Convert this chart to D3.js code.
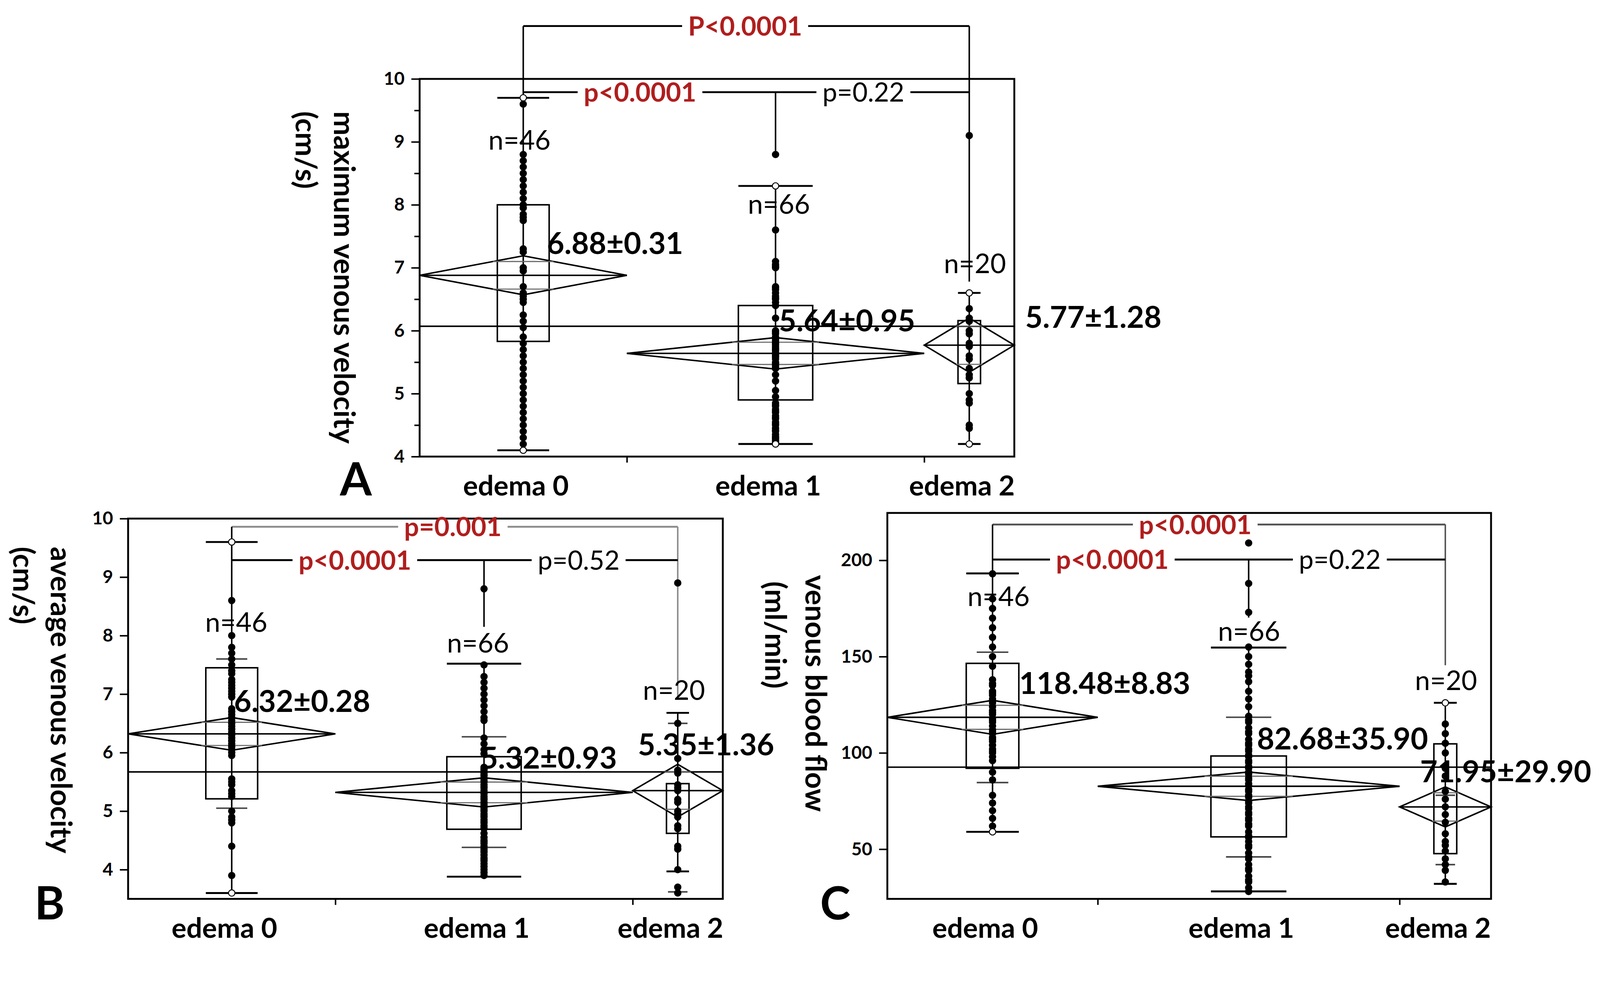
<!DOCTYPE html>
<html>
<head>
<meta charset="utf-8">
<script src="https://cdn.jsdelivr.net/npm/d3@7"></script>
<style>
  html, body { margin: 0; padding: 0; background: #fff; overflow: hidden; }
  #fig { display: block; width: 100vw; height: calc(100vw * 2549 / 4259); }
</style>
</head>
<body>
<svg id="fig" viewBox="0 0 4259 2549" preserveAspectRatio="xMinYMin meet"></svg>
<script>
// groups and sample sizes (widths of the columns are proportional to n)
var groups = ["edema 0", "edema 1", "edema 2"];
var groupN = [46, 66, 20];

// ---- panel A : maximum venous velocity ----
var aMeans = [6.88, 5.64, 5.77];
var aCI = [0.31, 0.25, 0.43];
var aQ1 = [5.83, 4.90, 5.16];
var aQ3 = [8.00, 6.40, 6.16];
var aMin = [4.10, 4.20, 4.20];
var aMax = [9.70, 8.30, 6.60];
var aGrandMean = 6.07;
var aStats = ["6.88±0.31", "5.64±0.95", "5.77±1.28"];
var aP = ["P<0.0001", "p<0.0001", "p=0.22"];
var aYTicks = [4, 5, 6, 7, 8, 9, 10];
var aYMinor = [4.5, 5.5, 6.5, 7.5, 8.5, 9.5];
var aPts0 = [9.7, 9.6, 8.8, 8.7, 8.6, 8.5, 8.4, 8.3, 8.2, 8.1, 8.0, 7.95, 7.85, 7.8, 7.75, 7.3, 7.25, 7.0, 6.95, 6.7, 6.6, 6.55, 6.5, 6.45, 6.25, 6.15, 6.05, 5.9, 5.8, 5.7, 5.6, 5.5, 5.4, 5.3, 5.2, 5.1, 5.0, 4.9, 4.8, 4.7, 4.6, 4.5, 4.4, 4.3, 4.2, 4.1];
var aPts1 = [8.8, 8.3, 7.6, 7.1, 7.05, 7.0, 7.02, 6.7, 6.68, 6.65, 6.6, 6.55, 6.52, 6.5, 6.45, 6.4, 6.2, 6.0, 5.98, 5.95, 5.9, 5.88, 5.85, 5.82, 5.8, 5.78, 5.75, 5.72, 5.7, 5.68, 5.65, 5.62, 5.6, 5.58, 5.55, 5.5, 5.48, 5.45, 5.42, 5.4, 5.3, 5.2, 5.05, 4.95, 4.85, 4.82, 4.8, 4.75, 4.72, 4.7, 4.65, 4.62, 4.6, 4.55, 4.52, 4.5, 4.45, 4.42, 4.4, 4.35, 4.32, 4.3, 4.28, 4.25, 4.22, 4.2];
var aPts2 = [9.1, 6.6, 6.35, 6.2, 6.15, 6.0, 5.95, 5.8, 5.75, 5.6, 5.55, 5.4, 5.3, 5.25, 5.0, 4.9, 4.85, 4.5, 4.45, 4.2];

// ---- panel B : average venous velocity ----
var bMeans = [6.32, 5.32, 5.35];
var bCI = [0.28, 0.25, 0.45];
var bQ1 = [5.21, 4.69, 4.62];
var bQ3 = [7.45, 5.93, 5.47];
var bMin = [3.60, 3.88, 3.97];
var bMax = [9.60, 7.52, 6.68];
var bP10 = [5.05, 4.38, 3.62];
var bP90 = [7.60, 6.27, 6.50];
var bGrandMean = 5.67;
var bStats = ["6.32±0.28", "5.32±0.93", "5.35±1.36"];
var bP = ["p=0.001", "p<0.0001", "p=0.52"];
var bYTicks = [4, 5, 6, 7, 8, 9, 10];
var bPts0 = [9.6, 8.6, 8.0, 7.8, 7.7, 7.6, 7.5, 7.4, 7.35, 7.25, 7.2, 7.15, 7.1, 7.05, 7.0, 6.95, 6.75, 6.7, 6.65, 6.6, 6.55, 6.5, 6.45, 6.4, 6.35, 6.3, 6.25, 6.2, 6.15, 6.1, 6.05, 6.0, 5.95, 5.55, 5.5, 5.45, 5.35, 5.3, 5.25, 5.0, 4.9, 4.85, 4.8, 4.4, 3.9, 3.6];
var bPts1 = [8.8, 7.5, 7.3, 7.2, 7.1, 7.0, 6.9, 6.8, 6.7, 6.6, 6.55, 6.25, 6.15, 6.05, 5.98, 5.75, 5.72, 5.7, 5.65, 5.62, 5.6, 5.55, 5.52, 5.5, 5.45, 5.42, 5.4, 5.35, 5.32, 5.3, 5.25, 5.22, 5.2, 5.15, 5.12, 5.1, 5.05, 5.02, 5.0, 4.95, 4.92, 4.9, 4.85, 4.82, 4.8, 4.75, 4.72, 4.7, 4.62, 4.55, 4.5, 4.48, 4.45, 4.4, 4.35, 4.32, 4.3, 4.25, 4.2, 4.18, 4.15, 4.1, 4.05, 4.0, 3.95, 3.9];
var bPts2 = [8.9, 6.5, 5.9, 5.7, 5.65, 5.45, 5.4, 5.35, 5.2, 5.15, 5.0, 4.95, 4.9, 4.75, 4.7, 4.4, 4.35, 4.0, 3.7, 3.6];

// ---- panel C : venous blood flow ----
var cMeans = [118.48, 82.68, 71.95];
var cCI = [8.83, 7.4, 10.4];
var cQ1 = [92.0, 56.4, 47.7];
var cQ3 = [146.5, 98.4, 104.7];
var cMin = [59, 28.1, 32];
var cMax = [193.2, 154.7, 126];
var cP10 = [84.6, 46, 42];
var cP90 = [152.3, 118.5, 78];
var cGrandMean = 92.6;
var cStats = ["118.48±8.83", "82.68±35.90", "71.95±29.90"];
var cP = ["p<0.0001", "p<0.0001", "p=0.22"];
var cYTicks = [50, 100, 150, 200];
var cPts0 = [193, 180, 175, 170, 165, 160, 155, 150, 145, 138, 136, 135, 132, 131, 130, 128, 127, 126, 124, 122, 121, 120, 118, 117, 116, 114, 112, 111, 110, 108, 107, 106, 104, 102, 101, 100, 98, 96, 90, 86, 78, 74, 70, 66, 62, 59];
var cPts1 = [209, 188, 173, 155, 150, 146, 142, 140, 137, 132, 128, 124, 119, 117, 116, 113, 111, 110, 107, 105, 104, 102, 101, 99, 98, 96, 95, 93, 92, 90, 89, 87, 86, 84, 83, 81, 80, 78, 77, 75, 74, 72, 71, 69, 68, 66, 65, 63, 62, 59, 57, 56, 54, 52, 51, 48, 46, 45, 42, 40, 39, 36, 34, 33, 30, 28];
var cPts2 = [126, 115, 110, 105, 100, 92, 88, 80, 76, 72, 68, 64, 58, 54, 52, 49, 45, 42, 39, 33];

var FONT = "Lato, 'Open Sans', 'DejaVu Sans', sans-serif";
var RED = "#b01e1e";
var svg = d3.select("#fig");

// layout of the three panels (pixels) and where the annotations sit
var panels = [
  { letter: "A", letterX: 905, letterY: 1318,
    left: 1117, right: 2700, top: 210, bottom: 1215, yDomain: [4, 10],
    yTicks: aYTicks, yMinor: aYMinor,
    means: aMeans, ci: aCI, q1: aQ1, q3: aQ3, lo: aMin, hi: aMax, p10: null, p90: null,
    grand: aGrandMean, points: [aPts0, aPts1, aPts2], stats: aStats, pvals: aP,
    brTop: 10.84, brIn: 9.79, dropE2: 6.78, dropE1: 8.8, topColor: "#000",
    pDx: [-3, -25, -24],
    title: ["maximum venous velocity", "(cm/s)"], titleX: [917, 815], titleY: [296, 296],
    nY: [9.03, 8.01, 7.07], nDx: [-10, 9, 15],
    statY: [7.39, 6.16, 6.22], statDx: [63, 9, 149] },
  { letter: "B", letterX: 92, letterY: 2447,
    left: 341, right: 1924, top: 1380, bottom: 2392, yDomain: [3.5, 10],
    yTicks: bYTicks, yMinor: [],
    means: bMeans, ci: bCI, q1: bQ1, q3: bQ3, lo: bMin, hi: bMax, p10: bP10, p90: bP90,
    grand: bGrandMean, points: [bPts0, bPts1, bPts2], stats: bStats, pvals: bP,
    brTop: 9.86, brIn: 9.29, dropE2: 6.93, dropE1: 8.15, topColor: "#8c8c8c",
    pDx: [-5, -8, -6],
    title: ["average venous velocity", "(cm/s)"], titleX: [163, 63], titleY: [1455, 1455],
    nY: [8.23, 7.88, 7.07], nDx: [12, -16, -10],
    statY: [6.88, 5.91, 6.14], statDx: [6, -9, -106] },
  { letter: "C", letterX: 2183, letterY: 2447,
    left: 2362, right: 3969, top: 1365, bottom: 2392, yDomain: [24.2, 224.6],
    yTicks: cYTicks, yMinor: [],
    means: cMeans, ci: cCI, q1: cQ1, q3: cQ3, lo: cMin, hi: cMax, p10: cP10, p90: cP90,
    grand: cGrandMean, points: [cPts0, cPts1, cPts2], stats: cStats, pvals: cP,
    brTop: 218.6, brIn: 200.4, dropE2: 145.5, dropE1: 170.3, topColor: "#555",
    pDx: [-63, -22, -19],
    title: ["venous blood flow", "(ml/min)"], titleX: [2172, 2065], titleY: [1530, 1547],
    nY: [181.3, 163.3, 137.7], nDx: [16, 1, 2],
    statY: [136.2, 107.5, 90.3], statDx: [71, 22, -67] }
];

function line(g, x1, y1, x2, y2, color, w) {
  return g.append("line")
    .attr("x1", x1).attr("y1", y1).attr("x2", x2).attr("y2", y2)
    .attr("stroke", color || "#000").attr("stroke-width", w || 4);
}

function drawPanel(p) {
  var g = svg.append("g");
  var total = d3.sum(groupN);
  var x = d3.scaleLinear().domain([0, total]).range([p.left, p.right]);
  var y = d3.scaleLinear().domain(p.yDomain).range([p.bottom, p.top]);

  var cum = [0];
  groupN.forEach(function(n, i) { cum.push(cum[i] + n); });
  var mid = groupN.map(function(n, i) { return cum[i] + n / 2; });
  var cx = mid.map(x);
  var boxHalf = groupN.map(function(n) { return x(n * 0.125) - x(0); });

  // grand mean
  line(g, p.left, y(p.grand), p.right, y(p.grand), "#000", 4);

  groupN.forEach(function(n, i) {
    var xl = x(cum[i]), xr = x(cum[i + 1]), c = cx[i], bh = boxHalf[i];

    // quantile box
    g.append("rect")
      .attr("x", c - bh).attr("y", y(p.q3[i]))
      .attr("width", 2 * bh).attr("height", y(p.q1[i]) - y(p.q3[i]))
      .attr("fill", "none").attr("stroke", "#000").attr("stroke-width", 4);

    // whisker + caps
    line(g, c, y(p.lo[i]), c, y(p.hi[i]), "#000", 4);
    line(g, c - bh, y(p.hi[i]), c + bh, y(p.hi[i]), "#000", 5);
    line(g, c - bh, y(p.lo[i]), c + bh, y(p.lo[i]), "#000", 5);

    // 10 / 90 % marks
    if (p.p10) {
      var mh = Math.max(bh * 0.6, 26);
      line(g, c - mh, y(p.p10[i]), c + mh, y(p.p10[i]), "#444", 4);
      line(g, c - mh, y(p.p90[i]), c + mh, y(p.p90[i]), "#444", 4);
    }

    // means diamond
    var m = p.means[i], ci = p.ci[i];
    var pts = [[xl, y(m)], [c, y(m + ci)], [xr, y(m)], [c, y(m - ci)]];
    g.append("path")
      .attr("d", "M" + pts.join("L") + "Z")
      .attr("fill", "none").attr("stroke", "#000").attr("stroke-width", 4);
    line(g, xl, y(m), xr, y(m), "#000", 4);

    // overlap marks
    var k = 1 / Math.SQRT2, hw = (xr - xl) / 2 * (1 - k);
    [m + ci * k, m - ci * k].forEach(function(v) {
      line(g, c - hw, y(v), c + hw, y(v), "#6a6a6a", 3);
    });
  });

  // comparison brackets
  var lc = p.topColor;
  line(g, cx[0], y(p.brTop), cx[2], y(p.brTop), lc, 5);
  line(g, cx[2], y(p.brTop), cx[2], y(p.dropE2), lc, 4);
  line(g, cx[0], y(p.brTop), cx[0], y(p.hi[0]), "#000", 4);
  line(g, cx[0], y(p.brIn), cx[2], y(p.brIn), "#000", 5);
  line(g, cx[1], y(p.brIn), cx[1], y(p.dropE1), "#000", 4);

  // data points
  p.points.forEach(function(vals, i) {
    g.selectAll(null).data(vals).enter().append("circle")
      .attr("cx", cx[i]).attr("cy", function(d) { return y(d); })
      .attr("r", 8.5)
      .attr("fill", function(d) { return (d === p.lo[i] || d === p.hi[i]) ? "#fff" : "#000"; })
      .attr("stroke", "#000").attr("stroke-width", 2.5);
  });

  // frame
  g.append("rect")
    .attr("x", p.left).attr("y", p.top)
    .attr("width", p.right - p.left).attr("height", p.bottom - p.top)
    .attr("fill", "none").attr("stroke", "#000").attr("stroke-width", 5);

  // y axis
  var ya = g.append("g").attr("transform", "translate(" + p.left + ",0)")
    .call(d3.axisLeft(y).tickValues(p.yTicks).tickSize(22).tickPadding(18).tickFormat(d3.format("d")));
  ya.select(".domain").remove();
  ya.selectAll("line").attr("stroke-width", 4);
  ya.selectAll("text").attr("font-family", FONT).attr("font-size", 48)
    .attr("font-weight", "bold").attr("fill", "#000");
  if (p.yMinor.length) {
    var ym = g.append("g").attr("transform", "translate(" + p.left + ",0)")
      .call(d3.axisLeft(y).tickValues(p.yMinor).tickSize(14).tickFormat(""));
    ym.select(".domain").remove();
    ym.selectAll("line").attr("stroke-width", 4);
  }

  // x axis: ticks at group borders, labels at group centres
  var xb = g.append("g").attr("transform", "translate(0," + p.bottom + ")")
    .call(d3.axisBottom(x).tickValues(cum.slice(1, 3)).tickSize(16).tickFormat(""));
  xb.select(".domain").remove();
  xb.selectAll("line").attr("stroke-width", 4);
  var xl = g.append("g").attr("transform", "translate(0," + p.bottom + ")")
    .call(d3.axisBottom(x).tickValues(mid).tickSize(0)
      .tickFormat(function(d, i) { return groups[i]; }));
  xl.select(".domain").remove();
  xl.selectAll("text").attr("y", 77).attr("dy", "0.36em").attr("dx", -20)
    .attr("font-family", FONT).attr("font-size", 74).attr("font-weight", "bold")
    .attr("fill", "#000");

  // axis title (two lines, rotated)
  p.title.forEach(function(t, i) {
    g.append("text")
      .attr("transform", "translate(" + p.titleX[i] + "," + p.titleY[i] + ") rotate(90)")
      .attr("dy", "0.36em")
      .attr("font-family", FONT).attr("font-size", 77).attr("font-weight", "bold")
      .text(t);
  });

  // panel letter
  g.append("text").attr("x", p.letterX).attr("y", p.letterY)
    .attr("font-family", FONT).attr("font-size", 122).attr("font-weight", "bold")
    .text(p.letter);

  // n labels and mean ± labels
  groupN.forEach(function(n, i) {
    g.append("text").attr("x", cx[i] + p.nDx[i]).attr("y", y(p.nY[i]))
      .attr("dy", "0.36em").attr("text-anchor", "middle")
      .attr("font-family", FONT).attr("font-size", 72)
      .text("n=" + n);
    g.append("text").attr("x", cx[i] + p.statDx[i]).attr("y", y(p.statY[i]))
      .attr("dy", "0.36em")
      .attr("font-family", FONT).attr("font-size", 80).attr("font-weight", "bold")
      .text(p.stats[i]);
  });

  // p values sitting on the bracket lines (a white gap is cut into the line)
  var pPos = [
    [(cx[0] + cx[2]) / 2, p.brTop, RED],
    [(cx[0] + cx[1]) / 2, p.brIn, RED],
    [(cx[1] + cx[2]) / 2, p.brIn, "#000"]
  ];
  pPos.forEach(function(d, i) {
    var t = g.append("text").attr("x", d[0] + p.pDx[i]).attr("y", y(d[1]))
      .attr("dy", "0.36em").attr("text-anchor", "middle")
      .attr("font-family", FONT).attr("font-size", 70)
      .attr("font-weight", i < 2 ? "bold" : "normal")
      .attr("fill", d[2])
      .text(p.pvals[i]);
    var bb = t.node().getBBox();
    g.insert("rect", function() { return t.node(); })
      .attr("x", bb.x - 16).attr("width", bb.width + 32)
      .attr("y", y(d[1]) - 9).attr("height", 18)
      .attr("fill", "#fff");
  });
}

panels.forEach(drawPanel);
</script>
</body>
</html>
